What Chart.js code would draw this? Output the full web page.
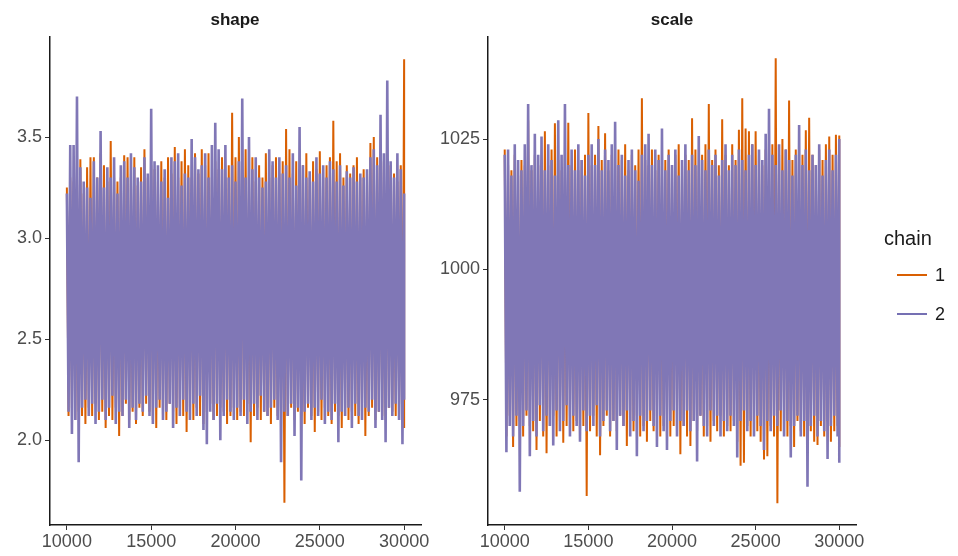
<!DOCTYPE html>
<html>
<head>
<meta charset="utf-8">
<script src="https://cdn.jsdelivr.net/npm/chart.js@4.4.1/dist/chart.umd.min.js"></script>
<style>
  html, body { margin:0; padding:0; background:#ffffff; }
  #wrap { position:relative; width:958px; height:556px; overflow:hidden; font-family:"Liberation Sans", Arial, sans-serif; }
  canvas { position:absolute; left:0; top:0; }
  .ptitle { position:absolute; top:10px; font-weight:bold; font-size:17px; color:#1a1a1a; transform:translateX(-50%); white-space:nowrap; }
  .leg { position:absolute; color:#1a1a1a; }
  .legline { position:absolute; height:2px; width:30px; }
</style>
</head>
<body>
<div id="wrap">
  <canvas id="c1" width="958" height="556"></canvas>
  <canvas id="c2" width="958" height="556"></canvas>
  <div class="ptitle" style="left:235px;">shape</div>
  <div class="ptitle" style="left:672px;">scale</div>
  <div class="leg" style="left:884px; top:227px; font-size:20px;">chain</div>
  <div class="legline" style="left:897px; top:274px; background:#d95f02;"></div>
  <div class="leg" style="left:935px; top:265px; font-size:18px;">1</div>
  <div class="legline" style="left:897px; top:313px; background:#7570b3;"></div>
  <div class="leg" style="left:935px; top:304px; font-size:18px;">2</div>
</div>
<script>
// ---- data ----
const chainNames = ["1", "2"];
const iterStart = 10000, iterEnd = 30000, iterStep = 200;   // envelope sampling grid
const xTicks = [10000, 15000, 20000, 25000, 30000];
const shapeTicks = [2.0, 2.5, 3.0, 3.5];
const scaleTicks = [975, 1000, 1025];

// shape: chain 1 (orange) upper / lower excursions
const shapeChain1High = [3.25,3.30,3.28,3.32,3.39,3.22,3.35,3.40,3.40,3.30,3.42,3.36,3.28,3.48,3.30,3.28,3.30,3.41,3.40,3.32,
 3.40,3.26,3.35,3.44,3.30,3.36,3.34,3.28,3.38,3.30,3.40,3.32,3.45,3.30,3.38,3.44,3.36,3.30,3.42,3.32,
 3.44,3.36,3.42,3.30,3.38,3.34,3.40,3.30,3.36,3.62,3.40,3.50,3.34,3.44,3.32,3.40,3.28,3.36,3.30,3.42,
 3.30,3.36,3.40,3.32,3.38,3.54,3.44,3.32,3.38,3.30,3.36,3.42,3.30,3.38,3.34,3.43,3.30,3.36,3.40,3.58,
 3.38,3.42,3.30,3.36,3.32,3.36,3.40,3.30,3.34,3.32,3.47,3.50,3.40,3.34,3.38,3.30,3.36,3.32,3.28,3.36,3.885];
const shapeChain1Low = [2.12,2.16,2.10,2.14,2.12,2.08,2.16,2.12,2.18,2.10,2.14,2.06,2.12,2.10,2.16,2.02,2.12,2.18,2.10,2.14,
 2.08,2.16,2.12,2.18,2.14,2.10,2.06,2.16,2.12,2.10,2.18,2.14,2.08,2.16,2.12,2.04,2.14,2.10,2.16,2.12,
 2.08,2.14,2.18,2.10,2.12,2.16,2.14,2.08,2.12,2.16,2.10,2.14,2.12,2.18,1.99,2.12,2.16,2.10,2.14,2.12,
 2.08,2.16,2.12,2.10,1.69,2.12,2.16,2.10,2.14,2.12,2.08,2.16,2.12,2.04,2.14,2.10,2.16,2.12,2.08,2.14,
 2.12,2.06,2.16,2.10,2.14,2.12,2.08,2.14,2.02,2.12,2.16,2.10,2.14,2.12,2.10,2.16,2.14,2.12,2.18,2.10,2.06];
// shape: chain 2 (purple)
const shapeChain2High = [3.22,3.46,3.46,3.70,3.35,3.28,3.25,3.20,3.38,3.30,3.53,3.25,3.35,3.30,3.40,3.22,3.36,3.38,3.30,3.42,
 3.35,3.30,3.28,3.40,3.32,3.64,3.38,3.36,3.28,3.34,3.20,3.40,3.38,3.42,3.26,3.32,3.30,3.49,3.40,3.34,
 3.36,3.42,3.30,3.46,3.57,3.44,3.34,3.46,3.30,3.36,3.28,3.38,3.69,3.30,3.50,3.34,3.40,3.30,3.25,3.28,
 3.44,3.38,3.30,3.40,3.32,3.36,3.30,3.42,3.26,3.55,3.36,3.30,3.33,3.28,3.40,3.32,3.36,3.30,3.38,3.34,
 3.28,3.36,3.26,3.33,3.30,3.35,3.28,3.32,3.30,3.34,3.40,3.44,3.36,3.61,3.42,3.78,3.38,3.30,3.42,3.34,3.22];
const shapeChain2Low = [2.14,2.03,2.10,1.89,2.16,2.20,2.12,2.18,2.08,2.14,2.20,2.10,2.16,2.22,2.08,2.14,2.12,2.20,2.06,2.16,
 2.10,2.18,2.14,2.22,2.12,2.08,2.16,2.20,2.10,2.14,2.18,2.06,2.16,2.12,2.20,2.14,2.10,2.18,2.12,2.22,
 2.05,1.98,2.14,2.10,2.18,2.00,2.12,2.20,2.14,2.10,2.16,2.12,2.20,2.08,2.14,2.18,2.10,2.22,2.14,2.12,
 2.16,2.20,2.10,1.89,2.14,2.12,2.18,2.02,2.16,1.80,2.14,2.18,2.10,2.16,2.12,2.20,2.08,2.14,2.10,2.18,
 1.99,2.14,2.12,2.16,2.06,2.18,2.12,2.10,2.16,2.14,2.20,2.06,2.14,2.10,1.99,2.16,2.12,2.18,2.10,1.98,2.20];

// scale: chain 1 (orange)
const scaleChain1High = [1023,1020,1019,1022,1018,1021,1020,1028.6,1019,1022,1020,1021,1026.5,1020,1023,1028,1021,1019,1022,1028.1,
 1020,1023,1019,1021,1022,1030,1020,1022,1027.5,1021,1026.1,1019,1022,1020,1023,1021,1024,1019,1022,1020,
 1023,1032.8,1021,1020,1023,1019,1022,1020,1021,1023,1019,1022,1024,1020,1022,1021,1029,1023,1020,1022,
 1024,1031.7,1021,1023,1020,1028.8,1022,1020,1024,1021,1026.8,1032.8,1027,1026.5,1024,1026.5,1022,1020,1023,1021,
 1024,1040.5,1022,1025,1023,1032.4,1021,1023,1020,1022,1026.7,1029.1,1022,1020,1023,1021,1024,1025.5,1022,1025.8,1025.7];
const scaleChain1Low = [968,972,966,970,971,968,972,970,969,965.4,971,968,964.8,970,972,968,971,966.8,970,972,
 969,971,968,970,956.6,969,972,968,964.4,970,972,968,971,969,972,970,966.2,971,969,972,
 968,970,967,971,969,972,968,970,971,968,970,972,964.6,970,968,966.2,971,969,972,968,
 970,967,971,969,972,968,970,969,971,967,962.4,963,970,968,971,969,967,963.6,964.2,970,
 968,955.2,969,971,968,970,966,971,969,968,971,969,967,966.4,970,968,971,967,969,970,966];
// scale: chain 2 (purple)
const scaleChain2High = [1022,1023,1018,1024,1021,1019,1024,1031.7,1020,1026,1022,1025.5,1019,1024,1021,1018,1028.6,1022,1031.7,1020,
 1023,1019,1024,1021,1018,1022,1024,1020,1025,1019,1023,1021,1024,1028.3,1020,1022,1018,1021,1023,1019,
 1017,1022,1024,1026,1020,1023,1021,1027,1019,1022,1020,1023,1018,1021,1024,1019,1022,1020,1025.6,1021,
 1019,1023,1020,1022,1018,1021,1024,1019,1022,1020,1023,1021,1019,1022,1024,1020,1023,1021,1026,1030.8,
 1022,1020,1024,1019,1023,1021,1018,1022,1027.7,1020,1023,1019,1022,1020,1024,1018,1021,1023,1019,1022,1025];
const scaleChain2Low = [965,970,968,972,957.4,970,973,964.2,971,968,974,969,972,970,966.3,973,969,971,974,968,
 972,970,967,973,969,972,970,974,968,971,973,969,971,965.4,972,970,973,968,971,964.2,
 972,969,971,973,970,966,972,969,965.4,971,973,968,971,970,973,969,971,963.2,972,970,
 968,973,970,972,968,971,969,972,970,964,971,973,969,971,968,972,970,965.4,971,969,
 972,970,973,968,971,964,970,972,968,971,958.4,970,972,968,971,969,963.7,970,972,968,963];

// ---- build the trace tables from the arrays ----
function trace(high, low) {
  const pts = [];
  for (let i = 0; i < high.length; i++) {
    const it = iterStart + i * iterStep;
    pts.push({ x: it, y: high[i] });
    pts.push({ x: Math.min(it + iterStep / 2, iterEnd), y: low[i] });
  }
  return pts;
}

const ORANGE = '#d95f02';
const PURPLE = '#8077b6';
const tickFont = { family: "'Liberation Sans', Arial, sans-serif", size: 18 };
const tickColor = '#4d4d4d';

function makeChart(id, c1h, c1l, c2h, c2l, yMin, yMax, yTicks, fmt, padL, yWidth, padR) {
  return new Chart(document.getElementById(id), {
    type: 'line',
    data: {
      datasets: [
        // chain 1 is drawn underneath chain 2 (higher order = drawn first)
        { label: chainNames[0], order: 2, data: trace(c1h, c1l), borderColor: ORANGE, borderWidth: 2.0, pointRadius: 0, tension: 0, fill: false, borderJoinStyle: 'miter' },
        { label: chainNames[1], order: 1, data: trace(c2h, c2l), borderColor: PURPLE, borderWidth: 2.6, pointRadius: 0, tension: 0, fill: false, borderJoinStyle: 'miter' }
      ]
    },
    options: {
      responsive: false,
      animation: false,
      normalized: true,
      parsing: false,
      layout: { padding: { left: padL, right: padR, top: 37, bottom: 0 } },
      plugins: { legend: { display: false }, tooltip: { enabled: false }, title: { display: false } },
      scales: {
        x: {
          type: 'linear', min: 9000, max: 31000,
          afterBuildTicks: s => { s.ticks = xTicks.map(v => ({ value: v })); },
          afterFit: s => { s.height = 31; },
          grid: { display: true, drawOnChartArea: false, drawTicks: true, tickLength: 5, tickColor: '#333333', tickWidth: 1 },
          border: { display: true, color: '#1a1a1a', width: 1.5 },
          ticks: { font: tickFont, color: tickColor, padding: 1, maxRotation: 0, autoSkip: false, callback: v => String(v) }
        },
        y: {
          type: 'linear', min: yMin, max: yMax,
          afterBuildTicks: s => { s.ticks = yTicks.map(v => ({ value: v })); },
          afterFit: s => { s.width = yWidth; },
          grid: { display: true, drawOnChartArea: false, drawTicks: true, tickLength: 5, tickColor: '#333333', tickWidth: 1 },
          border: { display: true, color: '#1a1a1a', width: 1.5 },
          ticks: { font: tickFont, color: tickColor, padding: 3, autoSkip: false, callback: fmt }
        }
      }
    }
  });
}

makeChart('c1', shapeChain1High, shapeChain1Low, shapeChain2High, shapeChain2Low,
  1.58, 3.995, shapeTicks, v => Number(v).toFixed(1), 0, 50, 958 - 421);
makeChart('c2', scaleChain1High, scaleChain1Low, scaleChain2High, scaleChain2Low,
  951.05, 1044.55, scaleTicks, v => String(v), 440, 48, 958 - 856);
</script>
</body>
</html>
